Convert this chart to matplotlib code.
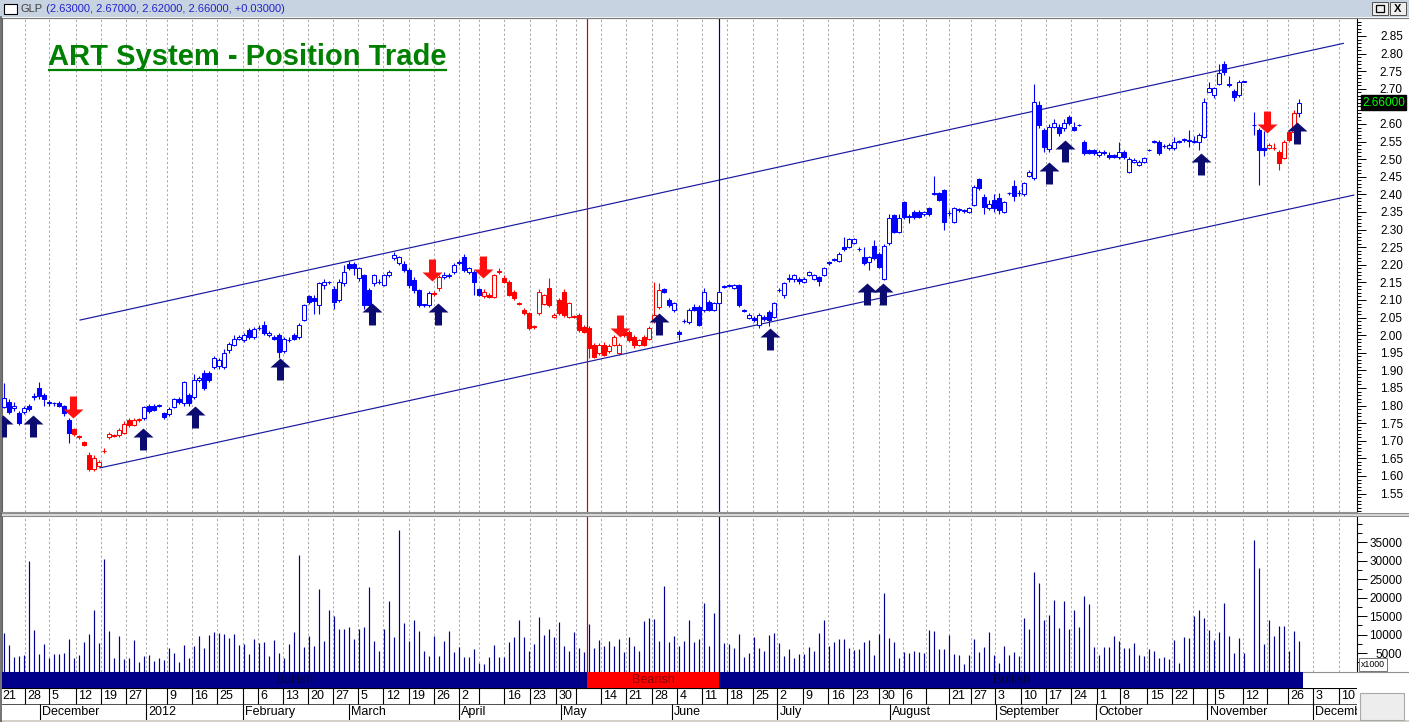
import numpy as np
import matplotlib
matplotlib.use("Agg")
import matplotlib.pyplot as plt
from matplotlib.path import Path
from matplotlib.patches import Rectangle
from matplotlib.lines import Line2D
from matplotlib.transforms import ScaledTranslation, blended_transform_factory
from matplotlib.ticker import MultipleLocator

plt.rcParams['font.family'] = ['Liberation Sans', 'DejaVu Sans']

nan = float('nan')
symbol = 'GLP'
chart_title = 'ART System - Position Trade'

# ---------------- data ----------------
opens = [
    1.797, 1.811, 1.792, 1.780, 1.783, 1.800, 1.825, 1.850, 1.830, 1.808,
    1.806, 1.808, 1.800, 1.759, 1.733, 1.714, 1.697, 1.660, 1.620, 1.628,
    1.670, 1.712, 1.714, 1.717, 1.723, 1.759, 1.745, 1.760, 1.765, 1.800,
    1.800, 1.800, 1.780, 1.776, 1.797, 1.820, 1.806, 1.830, 1.823, 1.873,
    1.894, 1.894, 1.911, 1.913, 1.911, 1.958, 1.972, 1.990, 1.986, 2.015,
    1.996, 2.020, 2.030, 2.000, 1.995, 2.000, 1.956, 1.986, 2.000, 1.996,
    2.043, 2.110, 2.105, 2.086, 2.142, 2.150, 2.130, 2.100, 2.147, 2.202,
    2.202, 2.162, 2.170, 2.128, 2.147, 2.150, 2.143, 2.171, 2.220, 2.204,
    2.202, 2.185, 2.157, 2.128, 2.086, 2.086, 2.121, 2.133, 2.165, 2.168,
    2.180, 2.204, 2.223, 2.180, 2.180, 2.130, 2.110, 2.115, 2.109, 2.180,
    2.162, 2.152, 2.124, 2.090, 2.072, 2.062, 2.024, 2.062, 2.090, 2.133,
    2.053, 2.100, 2.124, 2.053, 2.053, 2.058, 2.024, 2.020, 1.972, 1.948,
    1.972, 1.956, 1.972, 1.948, 2.015, 2.010, 1.996, 1.972, 1.996, 1.990,
    2.040, 2.081, 2.130, 2.100, 2.072, 2.010, 2.040, 2.038, 2.081, 2.081,
    2.072, 2.095, 2.072, 2.091, 2.138, 2.140, 2.133, 2.143, 2.070, 2.050,
    2.050, 2.030, 2.053, 2.067, 2.053, 2.128, 2.114, 2.161, 2.161, 2.161,
    2.152, 2.171, 2.161, 2.164, 2.171, 2.209, 2.214, 2.211, 2.251, 2.251,
    2.261, 2.244, 2.221, 2.209, 2.253, 2.230, 2.161, 2.261, 2.341, 2.294,
    2.379, 2.337, 2.351, 2.351, 2.344, 2.360, 2.405, 2.403, 2.412, 2.346,
    2.322, 2.356, 2.354, 2.351, 2.370, 2.443, 2.393, 2.360, 2.384, 2.391,
    2.351, 2.403, 2.424, 2.403, 2.400, 2.452, 2.446, 2.654, 2.583, 2.530,
    2.592, 2.592, 2.588, 2.621, 2.592, 2.597, 2.550, 2.526, 2.525, 2.512,
    2.521, 2.512, 2.512, 2.505, 2.521, 2.465, 2.493, 2.484, 2.493, 2.526,
    2.550, 2.550, 2.537, 2.531, 2.531, 2.550, 2.555, 2.553, 2.550, 2.550,
    2.564, 2.692, 2.682, 2.714, 2.770, 2.715, 2.694, 2.682, 2.720, nan,
    2.597, 2.583, 2.531, 2.531, 2.531, 2.521, 2.503, 2.578, 2.578, 2.630,
]
highs = [
    1.863, 1.820, 1.810, 1.785, 1.800, 1.805, 1.835, 1.868, 1.835, 1.815,
    1.810, 1.812, 1.803, 1.765, 1.735, 1.716, 1.700, 1.668, 1.660, 1.645,
    1.680, 1.725, 1.720, 1.735, 1.755, 1.765, 1.765, 1.765, 1.800, 1.805,
    1.805, 1.805, 1.783, 1.795, 1.822, 1.825, 1.870, 1.835, 1.890, 1.885,
    1.900, 1.898, 1.940, 1.935, 1.960, 1.980, 2.000, 2.000, 2.005, 2.020,
    2.022, 2.030, 2.040, 2.012, 2.000, 2.005, 1.995, 1.995, 2.005, 2.035,
    2.090, 2.115, 2.115, 2.150, 2.160, 2.155, 2.140, 2.160, 2.200, 2.210,
    2.208, 2.195, 2.175, 2.135, 2.175, 2.160, 2.175, 2.185, 2.237, 2.226,
    2.210, 2.190, 2.165, 2.130, 2.090, 2.125, 2.125, 2.170, 2.180, 2.178,
    2.205, 2.215, 2.230, 2.195, 2.185, 2.135, 2.130, 2.120, 2.175, 2.190,
    2.170, 2.158, 2.128, 2.095, 2.076, 2.066, 2.030, 2.130, 2.118, 2.162,
    2.062, 2.105, 2.130, 2.095, 2.058, 2.062, 2.030, 2.025, 1.978, 1.978,
    1.980, 1.975, 2.000, 1.978, 2.020, 2.015, 2.000, 1.990, 2.000, 2.025,
    2.152, 2.147, 2.135, 2.105, 2.095, 2.015, 2.045, 2.076, 2.090, 2.085,
    2.135, 2.100, 2.095, 2.128, 2.142, 2.146, 2.146, 2.146, 2.074, 2.062,
    2.054, 2.062, 2.058, 2.072, 2.095, 2.135, 2.152, 2.175, 2.174, 2.165,
    2.165, 2.183, 2.175, 2.168, 2.195, 2.212, 2.218, 2.235, 2.280, 2.275,
    2.276, 2.250, 2.250, 2.225, 2.270, 2.235, 2.258, 2.345, 2.345, 2.345,
    2.382, 2.345, 2.355, 2.355, 2.354, 2.365, 2.452, 2.408, 2.416, 2.356,
    2.364, 2.360, 2.358, 2.363, 2.426, 2.447, 2.400, 2.385, 2.400, 2.405,
    2.382, 2.406, 2.440, 2.412, 2.435, 2.470, 2.715, 2.665, 2.590, 2.600,
    2.615, 2.600, 2.615, 2.625, 2.605, 2.600, 2.555, 2.530, 2.528, 2.525,
    2.525, 2.520, 2.515, 2.550, 2.525, 2.505, 2.503, 2.497, 2.507, 2.530,
    2.554, 2.555, 2.542, 2.545, 2.562, 2.555, 2.560, 2.583, 2.565, 2.573,
    2.673, 2.720, 2.706, 2.770, 2.780, 2.735, 2.700, 2.724, 2.722, nan,
    2.635, 2.590, 2.580, 2.545, 2.545, 2.525, 2.555, 2.582, 2.640, 2.670,
]
lows = [
    1.792, 1.775, 1.785, 1.745, 1.775, 1.785, 1.815, 1.820, 1.800, 1.800,
    1.800, 1.795, 1.770, 1.693, 1.715, 1.705, 1.685, 1.615, 1.615, 1.625,
    1.665, 1.705, 1.710, 1.712, 1.720, 1.740, 1.742, 1.752, 1.760, 1.780,
    1.785, 1.795, 1.762, 1.770, 1.792, 1.805, 1.800, 1.800, 1.818, 1.868,
    1.845, 1.868, 1.905, 1.905, 1.905, 1.950, 1.968, 1.985, 1.980, 1.990,
    1.990, 2.015, 2.000, 1.995, 1.985, 1.935, 1.950, 1.980, 1.985, 1.990,
    2.040, 2.090, 2.060, 2.060, 2.130, 2.145, 2.075, 2.095, 2.140, 2.185,
    2.170, 2.155, 2.075, 2.060, 2.140, 2.145, 2.140, 2.165, 2.215, 2.200,
    2.180, 2.135, 2.120, 2.080, 2.080, 2.080, 2.110, 2.125, 2.160, 2.162,
    2.175, 2.200, 2.180, 2.175, 2.114, 2.110, 2.105, 2.105, 2.105, 2.175,
    2.148, 2.110, 2.100, 2.085, 2.058, 2.015, 2.018, 2.058, 2.085, 2.080,
    2.048, 2.058, 2.052, 2.048, 2.048, 2.010, 2.005, 1.934, 1.935, 1.944,
    1.940, 1.950, 1.968, 1.944, 1.995, 1.980, 1.965, 1.968, 1.968, 1.985,
    2.035, 2.075, 2.120, 2.080, 2.065, 1.985, 2.035, 2.032, 2.068, 2.025,
    2.065, 2.068, 2.068, 2.088, 2.134, 2.136, 2.130, 2.080, 2.066, 2.045,
    2.038, 2.020, 2.040, 2.025, 2.050, 2.122, 2.105, 2.150, 2.150, 2.145,
    2.148, 2.168, 2.158, 2.140, 2.168, 2.200, 2.210, 2.208, 2.240, 2.248,
    2.258, 2.240, 2.200, 2.185, 2.215, 2.190, 2.158, 2.255, 2.290, 2.290,
    2.330, 2.320, 2.330, 2.332, 2.340, 2.340, 2.398, 2.380, 2.300, 2.340,
    2.318, 2.350, 2.348, 2.346, 2.366, 2.412, 2.345, 2.356, 2.350, 2.345,
    2.346, 2.398, 2.380, 2.395, 2.395, 2.448, 2.440, 2.590, 2.520, 2.520,
    2.588, 2.565, 2.580, 2.598, 2.580, 2.594, 2.512, 2.515, 2.512, 2.505,
    2.513, 2.500, 2.502, 2.500, 2.500, 2.460, 2.488, 2.480, 2.490, 2.522,
    2.545, 2.512, 2.532, 2.525, 2.526, 2.545, 2.550, 2.535, 2.545, 2.525,
    2.560, 2.690, 2.675, 2.710, 2.740, 2.705, 2.665, 2.678, 2.718, nan,
    2.570, 2.427, 2.510, 2.528, 2.525, 2.470, 2.500, 2.550, 2.575, 2.620,
]
closes = [
    1.821, 1.783, 1.800, 1.750, 1.792, 1.790, 1.826, 1.826, 1.820, 1.808,
    1.806, 1.799, 1.778, 1.721, 1.720, 1.710, 1.688, 1.620, 1.650, 1.640,
    1.670, 1.718, 1.714, 1.730, 1.748, 1.745, 1.760, 1.760, 1.795, 1.786,
    1.788, 1.800, 1.767, 1.790, 1.818, 1.810, 1.868, 1.806, 1.873, 1.878,
    1.850, 1.873, 1.934, 1.930, 1.948, 1.975, 1.990, 1.996, 2.000, 1.996,
    2.017, 2.020, 2.005, 2.005, 1.990, 1.953, 1.990, 1.986, 1.990, 2.030,
    2.086, 2.095, 2.096, 2.147, 2.152, 2.150, 2.095, 2.152, 2.180, 2.190,
    2.190, 2.190, 2.086, 2.086, 2.171, 2.150, 2.171, 2.180, 2.228, 2.223,
    2.185, 2.143, 2.128, 2.086, 2.086, 2.119, 2.116, 2.166, 2.170, 2.172,
    2.200, 2.209, 2.185, 2.190, 2.152, 2.114, 2.124, 2.109, 2.170, 2.180,
    2.152, 2.114, 2.105, 2.090, 2.062, 2.020, 2.024, 2.124, 2.114, 2.086,
    2.058, 2.062, 2.058, 2.091, 2.053, 2.015, 2.010, 1.963, 1.939, 1.972,
    1.944, 1.969, 1.996, 1.972, 2.000, 1.986, 1.972, 1.986, 1.972, 2.020,
    2.058, 2.128, 2.124, 2.086, 2.091, 2.004, 2.040, 2.072, 2.072, 2.029,
    2.124, 2.072, 2.091, 2.124, 2.138, 2.143, 2.143, 2.086, 2.070, 2.058,
    2.043, 2.057, 2.045, 2.043, 2.091, 2.128, 2.147, 2.161, 2.171, 2.155,
    2.161, 2.180, 2.171, 2.155, 2.190, 2.204, 2.214, 2.230, 2.244, 2.272,
    2.272, 2.244, 2.204, 2.221, 2.218, 2.193, 2.253, 2.332, 2.294, 2.332,
    2.337, 2.337, 2.337, 2.337, 2.351, 2.344, 2.400, 2.384, 2.322, 2.346,
    2.360, 2.356, 2.354, 2.360, 2.422, 2.417, 2.365, 2.372, 2.360, 2.356,
    2.379, 2.403, 2.395, 2.403, 2.431, 2.465, 2.663, 2.597, 2.535, 2.592,
    2.602, 2.573, 2.602, 2.602, 2.583, 2.597, 2.517, 2.519, 2.517, 2.521,
    2.517, 2.507, 2.507, 2.521, 2.505, 2.500, 2.498, 2.493, 2.503, 2.526,
    2.550, 2.517, 2.537, 2.540, 2.550, 2.550, 2.555, 2.553, 2.550, 2.569,
    2.663, 2.701, 2.701, 2.744, 2.747, 2.710, 2.678, 2.720, 2.720, nan,
    2.597, 2.526, 2.526, 2.540, 2.531, 2.488, 2.550, 2.555, 2.630, 2.660,
]
volume_thousands = [
    10.4, 7.2, 3.8, 4.1, 4.4, 30.1, 11.2, 4.7, 7.4, 3.6,
    4.7, 4.7, 5.0, 8.8, 3.6, 4.4, 7.9, 10.1, 16.8, 7.7,
    30.6, 10.9, 3.6, 9.6, 3.4, 3.6, 8.5, 2.7, 4.2, 4.4,
    2.8, 3.6, 3.0, 6.3, 5.0, 2.7, 7.1, 3.6, 6.9, 9.6,
    6.3, 9.8, 10.7, 10.4, 10.2, 9.0, 10.1, 7.1, 7.4, 4.7,
    8.8, 7.7, 8.1, 4.2, 8.5, 5.0, 3.6, 7.4, 10.6, 31.7,
    6.6, 9.6, 6.9, 22.5, 8.2, 16.6, 15.0, 11.5, 11.5, 12.0,
    8.8, 11.5, 12.0, 22.8, 8.2, 5.5, 11.5, 19.0, 9.3, 38.4,
    13.1, 8.2, 13.9, 10.9, 5.5, 4.2, 9.6, 4.2, 8.2, 10.9,
    5.3, 6.6, 3.8, 4.0, 6.1, 2.3, 2.0, 3.8, 7.1, 3.9,
    3.9, 8.0, 9.3, 13.9, 9.3, 5.5, 7.4, 14.7, 9.8, 11.5,
    9.3, 13.3, 6.9, 5.5, 10.6, 6.3, 5.3, 12.8, 6.3, 8.5,
    6.9, 8.2, 6.9, 8.8, 5.3, 9.3, 6.9, 5.5, 13.6, 14.4,
    14.2, 8.2, 23.3, 8.0, 9.6, 6.9, 8.2, 13.9, 8.0, 8.8,
    18.5, 6.9, 15.8, 19.3, 7.7, 7.4, 6.3, 10.1, 3.9, 5.0,
    9.3, 6.3, 5.5, 9.8, 10.4, 7.7, 4.2, 6.1, 3.6, 4.7,
    4.7, 6.6, 5.5, 10.4, 13.9, 6.9, 8.0, 8.8, 8.8, 6.3,
    5.8, 6.1, 8.0, 8.5, 4.4, 10.1, 21.4, 9.0, 8.0, 3.6,
    5.3, 5.0, 5.5, 5.3, 5.0, 11.2, 10.9, 6.0, 6.1, 9.8,
    4.7, 4.4, 2.0, 4.4, 8.8, 5.3, 6.6, 10.6, 4.4, 2.3,
    6.9, 4.4, 5.3, 4.2, 14.4, 11.5, 27.1, 23.9, 13.9, 15.2,
    19.3, 11.7, 19.0, 11.5, 16.6, 12.0, 20.6, 18.2, 6.6, 4.4,
    6.6, 6.6, 9.6, 8.2, 6.3, 6.3, 7.7, 4.4, 4.2, 6.1,
    5.5, 3.6, 3.9, 3.4, 8.5, 2.3, 9.3, 9.0, 15.0, 16.8,
    14.4, 11.2, 8.5, 10.6, 18.5, 9.6, 5.0, 9.0, 5.0, 0.0,
    35.7, 28.2, 7.4, 13.9, 9.6, 12.3, 12.3, 5.5, 10.9, 8.2,
]
# bearish (red) stretches of the system, inclusive bar ranges
red_spans = [(14, 27), (86, 87), (96, 131), (253, 258)]
# buy / sell arrows (bar position, price level of arrow centre)
buy_x = [-0.2, 5.7, 27.8, 38.1, 55.1, 73.6, 86.8, 131.0, 153.1, 172.5, 175.7, 209.0, 212.1, 239.3, 258.5]
buy_y = [1.742, 1.742, 1.705, 1.769, 1.905, 2.060, 2.060, 2.032, 1.989, 2.118, 2.116, 2.461, 2.523, 2.485, 2.573]
sell_x = [13.8, 85.6, 95.7, 123.1, 252.5]
sell_y = [1.797, 2.185, 2.195, 2.025, 2.607]
# trend channel
upper_x, upper_y = [15.14, 267.8], [2.043, 2.829]
lower_x, lower_y = [19.14, 269.9], [1.623, 2.398]
# bearish regime window (vertical lines)
bear_start, bear_end = 116.5, 143.0
# date axis
day_ticks = [4.1, 9.0, 14.3, 19.3, 24.3, 28.3, 32.5, 37.5, 42.5, 47.7, 50.7, 55.7,
             60.7, 65.8, 70.8, 75.8, 80.9, 86.0, 91.0, 95.0, 100.0, 105.1, 110.3,
             114.3, 119.3, 124.3, 129.5, 134.5, 139.5, 144.5, 149.7, 154.6, 159.8,
             164.8, 169.8, 175.0, 179.7, 184.3, 189.0, 193.4, 198.1, 203.3, 208.3,
             213.4, 218.5, 223.2, 228.6, 233.6, 237.8, 240.6, 242.1, 247.7, 252.6,
             256.8, 261.7, 266.9]
day_labels = ['28', '5', '12', '19', '27', '', '9', '16', '25', '', '6', '13',
              '20', '27', '5', '12', '19', '26', '2', '', '16', '23', '30',
              '', '14', '21', '28', '4', '11', '18', '25', '2', '9',
              '16', '23', '30', '6', '', '21', '27', '3', '10', '17',
              '24', '1', '8', '15', '22', '', '', '5', '12', '',
              '26', '3', '10']
first_day_label = '21'
month_ticks = [7.1, 28.3, 47.7, 68.9, 90.9, 111.3, 133.5, 154.6, 177.1, 198.3, 218.4, 240.6, 261.7]
month_labels = ['December', '2012', 'February', 'March', 'April', 'May', 'June', 'July',
                'August', 'September', 'October', 'November', 'December']
price_ticks = [1.55, 1.60, 1.65, 1.70, 1.75, 1.80, 1.85, 1.90, 1.95, 2.00, 2.05, 2.10,
               2.15, 2.20, 2.25, 2.30, 2.35, 2.40, 2.45, 2.50, 2.55, 2.60, 2.65, 2.70,
               2.75, 2.80, 2.85]
volume_ticks = [5000, 10000, 15000, 20000, 25000, 30000, 35000]

# ---------------- layout helpers ----------------
W, H = 1409, 722
fig = plt.figure(figsize=(W / 100, H / 100), dpi=100, facecolor='white')


def R(x0, y0, x1, y1):
    return [x0 / W, 1 - y1 / H, (x1 - x0) / W, (y1 - y0) / H]


def fx(x):
    return x / W


def fy(y):
    return 1 - y / H


def frect(x0, y0, x1, y1, **kw):
    fig.add_artist(Rectangle((fx(x0), fy(y1)), (x1 - x0) / W, (y1 - y0) / H,
                             transform=fig.transFigure, **kw))


def fline(xs_, ys_, **kw):
    fig.add_artist(Line2D([fx(v) for v in xs_], [fy(v) for v in ys_],
                          transform=fig.transFigure, **kw))


BLUE, RED, NAVY = '#0000FF', '#FF0000', '#00008B'
ARROW_NAVY = '#0C0C70'
GRID = '#ABABAB'
x_lo, x_hi = -0.46, 270.54

n = len(closes)
xs = np.arange(n)
o = np.array(opens, float)
h = np.array(highs, float)
l = np.array(lows, float)
c = np.array(closes, float)
vol = np.array(volume_thousands) * 1000

# ---------------- price panel ----------------
ax = fig.add_axes(R(2, 18, 1357, 512))
ax.set_facecolor('white')
ax.set_xlim(x_lo, x_hi)
ax.set_ylim(1.4977, 2.9011)
for t in day_ticks:
    ax.axvline(t, color=GRID, lw=0.75, ls=(0, (2.2, 2.2)), zorder=0)

ax.plot(upper_x, upper_y, color='#1818A0', lw=0.85, zorder=2)
ax.plot(lower_x, lower_y, color='#1818A0', lw=0.85, zorder=2)
ax.axvline(bear_start, color='#D00000', lw=0.85, zorder=2)
ax.axvline(bear_end, color='#000080', lw=0.85, zorder=2)

red = np.zeros(n, bool)
for s, e in red_spans:
    red[s:e + 1] = True
edge = np.where(red, RED, BLUE)
face = np.where(c < o, edge, 'white')
ok = ~np.isnan(c)
ax.vlines(xs[ok], l[ok], h[ok], colors=edge[ok], lw=0.8, zorder=3)
body_lo = np.fmin(o, c)
body_h = np.abs(c - o)
body_h = np.where(body_h < 0.0015, 0.0015, body_h)
ax.bar(xs[ok], body_h[ok], bottom=body_lo[ok], width=0.78, color=list(face[ok]),
       edgecolor=list(edge[ok]), linewidth=0.75, zorder=4)

up_path = Path([(0, 0.5), (0.4545, 0.091), (0.16, 0.091), (0.16, -0.5),
                (-0.16, -0.5), (-0.16, 0.091), (-0.4545, 0.091), (0, 0.5)], closed=True)
down_path = Path([(vx, -vy) for vx, vy in up_path.vertices], closed=True)
ax.plot(buy_x, buy_y, ls='none', marker=up_path, ms=15.8, mfc=ARROW_NAVY,
        mec=ARROW_NAVY, mew=0, zorder=6)
ax.plot(sell_x, sell_y, ls='none', marker=down_path, ms=15.8, mfc='#FF1010',
        mec='#FF1010', mew=0, zorder=6)

ax.set_xticks([])
ax.yaxis.tick_right()
ax.set_yticks(price_ticks)
# the tick label hidden behind the last-price box is left blank
ax.set_yticklabels(['' if abs(v - c[-1]) < 0.025 else f'{v:.2f}' for v in price_ticks])
ax.yaxis.set_minor_locator(MultipleLocator(0.01))
ax.tick_params(axis='y', which='major', direction='out', length=6.5, width=0.7,
               pad=26.5, labelsize=8.5)
ax.tick_params(axis='y', which='minor', direction='out', length=3, width=0.7)
plt.setp(ax.get_yticklabels(), ha='right')
for side, col in [('left', '#606060'), ('top', '#808080'), ('bottom', '#909090'),
                  ('right', 'black')]:
    ax.spines[side].set_color(col)
    ax.spines[side].set_linewidth(0.8)

ax.text(1.0037, c[-1], f'{c[-1]:.5f}',
        transform=blended_transform_factory(ax.transAxes, ax.transData),
        ha='left', va='center', color='#00FF00', fontsize=8.5, zorder=10,
        bbox=dict(boxstyle='square,pad=0.12', fc='black', ec='black'), clip_on=False)

# ---------------- volume panel ----------------
av = fig.add_axes(R(2, 516, 1357, 672))
av.set_xlim(x_lo, x_hi)
av.set_ylim(-135, 42183)
for t in day_ticks:
    av.axvline(t, color=GRID, lw=0.75, ls=(0, (2.2, 2.2)), zorder=0)
av.vlines(xs, 0, vol, colors=NAVY, lw=0.85, zorder=3)
av.axvline(bear_start, color='#D00000', lw=0.85, zorder=2)
av.axvline(bear_end, color='#000080', lw=0.85, zorder=2)
av.set_xticks([])
av.yaxis.tick_right()
av.set_yticks(volume_ticks)
av.set_yticklabels([str(v) for v in volume_ticks])
av.yaxis.set_minor_locator(MultipleLocator(2500))
av.tick_params(axis='y', which='major', direction='out', length=7, width=0.7,
               pad=25.5, labelsize=8.5)
av.tick_params(axis='y', which='minor', direction='out', length=3.5, width=0.7)
plt.setp(av.get_yticklabels(), ha='right')
for side, col in [('left', '#606060'), ('top', '#909090'), ('bottom', '#909090'),
                  ('right', 'black')]:
    av.spines[side].set_color(col)
    av.spines[side].set_linewidth(0.8)
fig.text(fx(1361), fy(664.5), 'x1000', fontsize=6.3, ha='left', va='center',
         bbox=dict(boxstyle='square,pad=0.2', fc='white', ec='#606060', lw=0.6))

# ---------------- regime band ----------------
ab = fig.add_axes(R(2, 672, 1357, 688))
ab.set_xlim(x_lo, x_hi)
ab.set_ylim(0, 1)
ab.axis('off')
band_end = xs[-1] + 0.8
segments = [(x_lo, bear_start, NAVY, 'Bullish', '#000040'),
            (bear_start, bear_end, RED, 'Bearish', '#8A0000'),
            (bear_end, band_end, NAVY, 'Bullish', '#000040')]
for a0, a1, col, lab, tc in segments:
    ab.axvspan(a0, a1, color=col, lw=0)
    ab.text((a0 + a1) / 2, 0.5, lab, ha='center', va='center', fontsize=9, color=tc)

# ---------------- date axis ----------------
ad = fig.add_axes(R(2, 688, 1357, 720))
ad.set_xlim(x_lo, x_hi)
ad.set_ylim(0, 2)
ad.axis('off')
ad.axhline(1, color='#303030', lw=0.6)
ad.axhline(2, color='black', lw=0.8)
off = ScaledTranslation(2.5 / 100, 0, fig.dpi_scale_trans)
ad.text(x_lo, 1.5, first_day_label, transform=ad.transData, ha='left', va='center',
        fontsize=9, clip_on=True)
ad.vlines(day_ticks, 1, 2, colors='black', lw=0.8)
for t, lab in zip(day_ticks, day_labels):
    ad.text(t, 1.47, lab, transform=ad.transData + off, ha='left', va='center',
            fontsize=9, clip_on=True)
ad.vlines(month_ticks, 0, 1, colors='black', lw=0.8)
for t, lab in zip(month_ticks, month_labels):
    ad.text(t, 0.47, lab, transform=ad.transData + off, ha='left', va='center',
            fontsize=9, clip_on=True)

# ---------------- chrome ----------------
frect(0, 0, W, 17, facecolor='#C8D3E2', edgecolor='none')
fline([0, W], [17.5, 17.5], color='#7A7A7A', lw=0.8)
frect(4, 4, 17, 14, facecolor='white', edgecolor='black', lw=0.8)
frect(1372, 2, 1388, 15, facecolor='#EEEEEE', edgecolor='#505050', lw=0.7)
frect(1376, 5, 1384, 12, facecolor='none', edgecolor='black', lw=0.9)
frect(1390, 2, 1406, 15, facecolor='#EEEEEE', edgecolor='#505050', lw=0.7)
fig.text(fx(1398), fy(8.7), 'X', fontsize=8, fontweight='bold', ha='center', va='center')
frect(0, 512.5, W, 516, facecolor='#D6D6D6', edgecolor='none')
fline([0, W], [513, 513], color='#8A8A8A', lw=0.7)
fline([0, W], [515.5, 515.5], color='#8A8A8A', lw=0.7)
fline([1357, W], [672, 672], color='#909090', lw=0.8)
fline([1, 1], [17, 722], color='#5A5A5A', lw=1.2)
frect(0, 720, W, 722, facecolor='#D4D0C8', edgecolor='none')
frect(1360, 693, 1404, 720, facecolor='#EDEDED', edgecolor='#A8A8A8', lw=0.8)

header_vals = f' ({o[-1]:.5f}, {h[-1]:.5f}, {l[-1]:.5f}, {c[-1]:.5f}, {c[-1] - c[-2]:+.5f})'
t_sym = fig.text(fx(20.5), fy(8.7), symbol, fontsize=8, color='#404040', ha='left', va='center')
title = fig.text(fx(48), fy(65), chart_title, fontsize=21, fontweight='bold',
                 color='#008000', ha='left', va='baseline')
fig.canvas.draw()
rend = fig.canvas.get_renderer()
bb = t_sym.get_window_extent(rend)
fig.text(bb.x1 / W, fy(8.7), header_vals, fontsize=8, color='#2323C8', ha='left', va='center')
tb = title.get_window_extent(rend)
fig.add_artist(Line2D([tb.x0 / W, tb.x1 / W], [fy(69.5), fy(69.5)], transform=fig.transFigure,
                      color='#008000', lw=1.6, solid_capstyle='butt'))

fig.savefig('out.png', dpi=100, facecolor='white')
